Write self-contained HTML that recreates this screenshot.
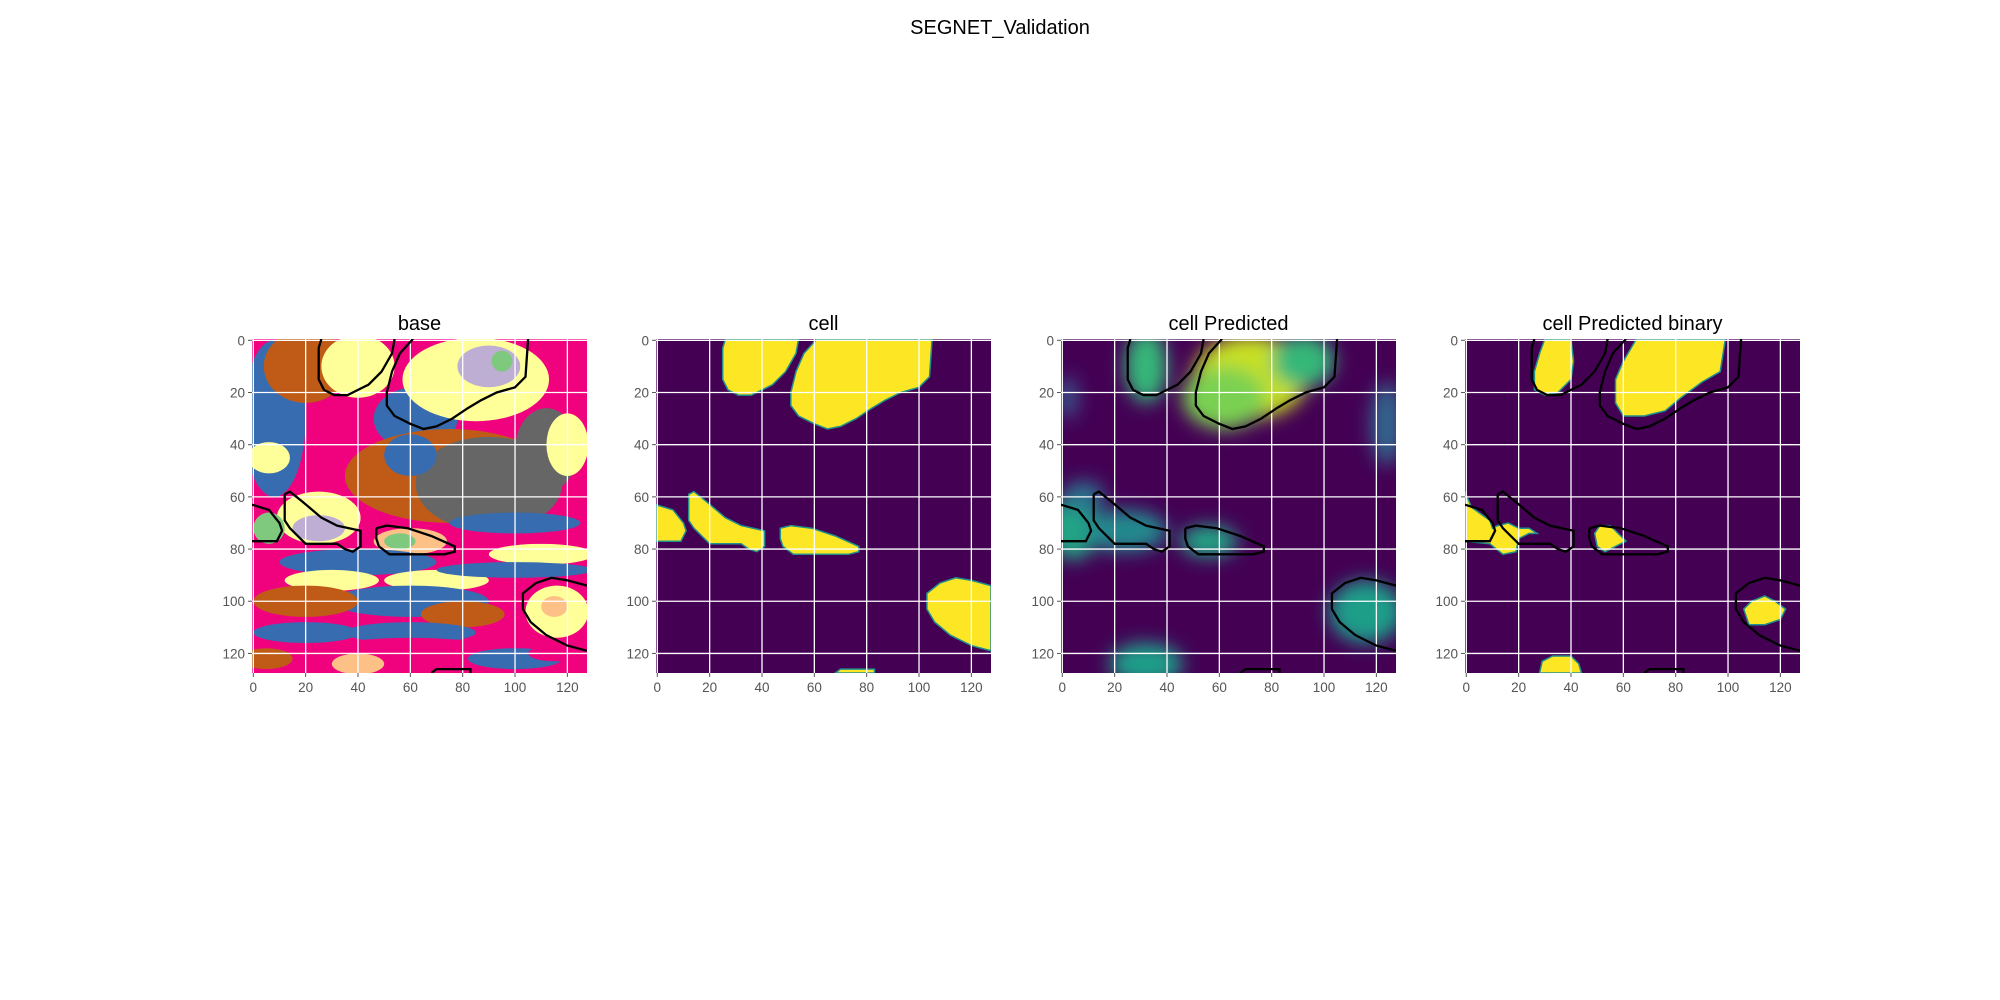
<!DOCTYPE html>
<html><head><meta charset="utf-8"><style>
html,body{margin:0;padding:0;background:#fff;width:2000px;height:1000px;overflow:hidden;font-family:"Liberation Sans","DejaVu Sans",sans-serif}
</style></head><body>
<svg id="fig" width="2000" height="1000" xmlns="http://www.w3.org/2000/svg">
<defs>
<filter id="blur" x="-50%" y="-50%" width="200%" height="200%"><feGaussianBlur stdDeviation="9"/></filter>
</defs>
<text x="1000" y="34" text-anchor="middle" font-size="20" fill="#000">SEGNET_Validation</text>
</svg>
<script>
const ticks=[0,20,40,60,80,100,120];
const titles=["base","cell","cell Predicted","cell Predicted binary"];
const lefts=[252,656,1061,1465];
const contours=[
[[26,-0.5],[25,3],[25,15],[27,19],[31,21],[36,21],[40,19],[44,17],[49,12],[53,5],[54,-0.5]],
[[61,-0.5],[56,5],[53,12],[51,20],[51,25],[54,29],[60,32],[65,34],[70,33],[76,30],[82,26],[87,23],[93,20],[100,18],[104,14],[105,-0.5]],
[[-0.5,63],[6,65],[10,70],[11,73],[9,77],[-0.5,77]],
[[12,59],[14,58],[19,62],[26,68],[32,71],[41,73],[41,79],[38,81],[35,80],[32,78],[20,78],[14,72],[12,69],[12,59]],
[[47,72],[51,71],[59,72],[68,75],[77,79],[77,81],[73,82],[57,82],[52,82],[48,79],[47,76],[47,72]],
[[127.5,94],[120,92],[114,91],[108,93],[103,97],[103,103],[106,108],[112,113],[120,117],[127.5,119]],
[[68,127.5],[70,126],[83,126],[83,127.5]]
];
const cellFill=[
[[26,-0.5],[25,3],[25,15],[27,19],[31,21],[36,21],[40,19],[44,17],[49,12],[53,5],[54,-0.5]],
[[61,-0.5],[56,5],[53,12],[51,20],[51,25],[54,29],[60,32],[65,34],[70,33],[76,30],[82,26],[87,23],[93,20],[100,18],[104,14],[105,-0.5]],
[[-0.5,63],[6,65],[10,70],[11,73],[9,77],[-0.5,77]],
[[12,59],[14,58],[19,62],[26,68],[32,71],[41,73],[41,79],[38,81],[35,80],[32,78],[20,78],[14,72],[12,69]],
[[47,72],[51,71],[59,72],[68,75],[77,79],[77,81],[73,82],[57,82],[52,82],[48,79],[47,76]],
[[127.5,94],[120,92],[114,91],[108,93],[103,97],[103,103],[106,108],[112,113],[120,117],[127.5,119]],
[[68,127.5],[70,126],[83,126],[83,127.5]]
];
const predBlobs=[[32,10,8,14,"#35b779"],[72,14,22,16,"#c8e020"],[62,22,16,12,"#7ad151"],[92,8,12,10,"#35b779"],[4,72,10,12,"#21a585"],[24,73,16,8,"#23898e"],[56,77,11,6,"#21a585"],[116,104,14,12,"#1f9e89"],[32,124,14,8,"#1f9e89"],[124,32,6,16,"#31688e"],[2,22,4,8,"#3b528b"],[8,60,8,6,"#2c728e"]];
const binFill=[
[[30,-0.5],[28,5],[26,12],[26,19],[30,21],[35,20],[40,15],[41,8],[40,-0.5]],
[[65,-0.5],[60,8],[57,15],[57,24],[60,29],[68,29],[76,27],[82,22],[90,16],[97,12],[99,-0.5]],
[[-0.5,58],[2,64],[9,69],[10,72],[12,71],[16,70],[20,72],[24,72],[27,74],[24,74],[20,76],[19,81],[14,82],[9,78],[-0.5,77]],
[[49,74],[51,71],[55,71],[58,74],[61,77],[57,79],[53,81],[50,79]],
[[106,103],[109,100],[114,98],[118,100],[122,103],[120,107],[114,109],[108,109]],
[[28,127.5],[29,123],[33,121],[40,121],[43,124],[44,127.5]]
];
const baseColors=["#f0027f","#386cb0","#bf5b17","#666666","#ffff99","#fdc086","#beaed4","#7fc97f"];
const baseBlobs=[
[8,30,12,30,1],[20,10,16,14,2],[6,45,8,6,4],[40,10,14,12,4],[62,30,16,12,1],[85,15,28,16,4],[90,10,12,8,6],[95,8,4,4,7],
[75,52,40,18,2],[90,55,28,18,3],[112,42,12,16,3],[60,44,10,8,1],[120,40,8,12,4],[100,70,25,4,1],
[25,68,16,10,4],[25,72,10,5,6],[60,77,14,5,5],[56,77,6,3,7],[6,72,6,6,7],
[40,85,30,5,1],[70,92,20,4,4],[30,92,18,4,4],[110,82,20,4,4],[100,88,30,3,1],
[60,100,30,6,1],[20,100,20,6,2],[80,105,16,5,2],[116,104,12,10,4],[115,102,5,4,5],
[20,112,20,4,1],[60,112,25,4,1],[60,118,30,4,0],[5,122,10,4,2],[40,124,10,4,5],[100,122,18,4,1],[115,120,10,3,0]];
const svg=document.getElementById('fig');
const NS="http://www.w3.org/2000/svg";
const W=335,H=334,T=339;
function el(t,a,p){const e=document.createElementNS(NS,t);for(const k in a)e.setAttribute(k,a[k]);(p||svg).appendChild(e);return e;}
function sx(i,v){return lefts[i]+(v+0.5)/128*W;}
function sy(v){return T+(v+0.5)/128*H;}
function pts(i,arr){return arr.map(p=>sx(i,p[0]).toFixed(1)+","+sy(p[1]).toFixed(1)).join(" ");}
for(let i=0;i<4;i++){
  const L=lefts[i];
  const cp=el('clipPath',{id:'c'+i});el('rect',{x:L,y:T,width:W,height:H},cp);
  const g=el('g',{'clip-path':'url(#c'+i+')'});
  
  
  const bg=i==0?"#f0027f":"#440154";
  el('rect',{x:L,y:T,width:W,height:H,fill:bg},g);
  if(i==0){
    baseBlobs.forEach(b=>{const e=el('ellipse',{cx:sx(0,b[0]),cy:sy(b[1]),rx:b[2]/128*W,ry:b[3]/128*H,fill:baseColors[b[4]]},g);
      });
  } else if(i==1){
    cellFill.forEach(c=>{const e=el('polygon',{points:pts(1,c),fill:"#fde725",stroke:"#21918c","stroke-width":1.5},g);
      });
  } else if(i==2){
    const bl=el('g',{filter:'url(#blur)'},g);
    predBlobs.forEach(b=>{const e=el('ellipse',{cx:sx(2,b[0]),cy:sy(b[1]),rx:b[2]/128*W,ry:b[3]/128*H,fill:b[4]},bl);
      });
  } else {
    binFill.forEach(c=>{const e=el('polygon',{points:pts(3,c),fill:"#fde725",stroke:"#21918c","stroke-width":1.5},g);
      });
  }
  ticks.forEach(t=>{
    el('line',{x1:sx(i,t),x2:sx(i,t),y1:T,y2:T+H,stroke:"#fff","stroke-width":1.3},g);
    el('line',{x1:L,x2:L+W,y1:sy(t),y2:sy(t),stroke:"#fff","stroke-width":1.3},g);
  });
  if(i!=1){contours.forEach(c=>{const e=el('polyline',{points:pts(i,c),fill:"none",stroke:"#000","stroke-width":2.3},g);
    });}
  ticks.forEach(t=>{
    el('line',{x1:sx(i,t),x2:sx(i,t),y1:T+H,y2:T+H+4,stroke:"#555","stroke-width":1});
    const tx=el('text',{x:sx(i,t),y:T+H+19,"text-anchor":"middle","font-size":13.5,fill:"#555"});tx.textContent=t;
    
    el('line',{x1:L-4,x2:L,y1:sy(t),y2:sy(t),stroke:"#555","stroke-width":1});
    const ty=el('text',{x:L-7,y:sy(t)+5,"text-anchor":"end","font-size":13.5,fill:"#555"});ty.textContent=t;
    
  });
  const tt=el('text',{x:L+W/2,y:T-9,"text-anchor":"middle","font-size":20,fill:"#000"});tt.textContent=titles[i];
  
}
</script>
</body></html>
